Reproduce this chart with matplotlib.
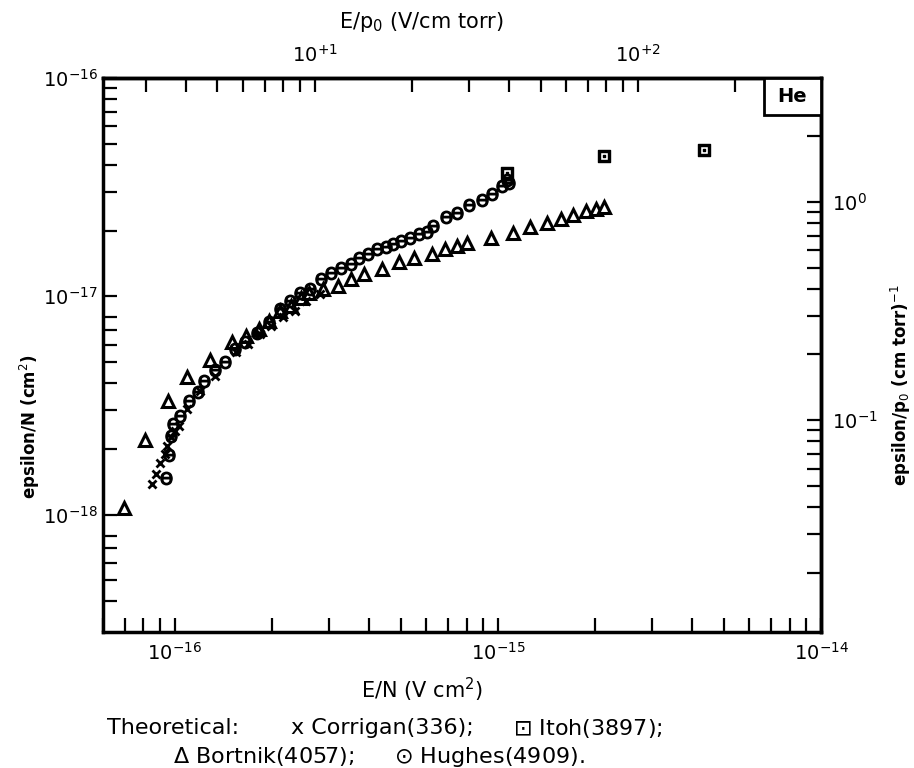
import matplotlib
matplotlib.use("Agg")
import numpy as np
import matplotlib.pyplot as plt
from matplotlib.ticker import FixedLocator, FuncFormatter, NullFormatter
from matplotlib.patches import Rectangle

# E/N (V cm^2) vs epsilon/N (cm^2)
corrigan_x = [8.52e-17, 8.73e-17, 9.00e-17, 9.31e-17, 9.48e-17, 9.74e-17, 1.00e-16,
              1.03e-16, 1.09e-16, 1.20e-16, 1.33e-16, 1.55e-16, 1.68e-16, 1.84e-16,
              1.99e-16, 2.16e-16, 2.35e-16, 2.55e-16, 2.81e-16]
corrigan_y = [1.38e-18, 1.54e-18, 1.73e-18, 1.90e-18, 2.07e-18, 2.27e-18, 2.42e-18,
              2.56e-18, 3.05e-18, 3.70e-18, 4.33e-18, 5.53e-18, 6.04e-18, 6.71e-18,
              7.32e-18, 8.08e-18, 8.57e-18, 9.52e-18, 1.03e-17]

itoh_x = [1.07e-15, 2.13e-15, 4.35e-15]
itoh_y = [3.67e-17, 4.41e-17, 4.69e-17]

bortnik_x = [6.96e-17, 8.09e-17, 9.50e-17, 1.09e-16, 1.29e-16, 1.50e-16, 1.66e-16,
             1.82e-16, 1.96e-16, 2.11e-16, 2.29e-16, 2.46e-16, 2.61e-16, 2.88e-16,
             3.20e-16, 3.52e-16, 3.85e-16, 4.37e-16, 4.96e-16, 5.51e-16, 6.25e-16,
             6.84e-16, 7.47e-16, 8.03e-16, 9.55e-16, 1.11e-15, 1.26e-15, 1.42e-15,
             1.57e-15, 1.71e-15, 1.87e-15, 2.01e-15, 2.13e-15]
bortnik_y = [1.07e-18, 2.20e-18, 3.32e-18, 4.25e-18, 5.12e-18, 6.17e-18, 6.59e-18,
             7.07e-18, 7.72e-18, 8.57e-18, 9.03e-18, 9.86e-18, 1.04e-17, 1.08e-17,
             1.11e-17, 1.20e-17, 1.26e-17, 1.34e-17, 1.43e-17, 1.50e-17, 1.56e-17,
             1.64e-17, 1.70e-17, 1.75e-17, 1.85e-17, 1.95e-17, 2.08e-17, 2.17e-17,
             2.27e-17, 2.35e-17, 2.45e-17, 2.52e-17, 2.57e-17]

hughes_x = [9.38e-17, 9.60e-17, 9.72e-17, 9.88e-17, 1.04e-16, 1.11e-16, 1.18e-16,
            1.23e-16, 1.33e-16, 1.43e-16, 1.54e-16, 1.65e-16, 1.80e-16, 1.96e-16,
            2.11e-16, 2.27e-16, 2.45e-16, 2.62e-16, 2.84e-16, 3.05e-16, 3.28e-16,
            3.50e-16, 3.72e-16, 3.95e-16, 4.22e-16, 4.50e-16, 4.75e-16, 5.01e-16,
            5.35e-16, 5.71e-16, 6.05e-16, 6.32e-16, 6.91e-16, 7.47e-16, 8.16e-16,
            8.94e-16, 9.60e-16, 1.03e-15, 1.08e-15, 1.07e-15]
hughes_y = [1.47e-18, 1.87e-18, 2.30e-18, 2.60e-18, 2.84e-18, 3.33e-18, 3.63e-18,
            4.10e-18, 4.61e-18, 5.01e-18, 5.73e-18, 6.17e-18, 6.78e-18, 7.60e-18,
            8.72e-18, 9.49e-18, 1.04e-17, 1.08e-17, 1.20e-17, 1.28e-17, 1.35e-17,
            1.41e-17, 1.50e-17, 1.56e-17, 1.64e-17, 1.68e-17, 1.73e-17, 1.79e-17,
            1.85e-17, 1.92e-17, 1.97e-17, 2.09e-17, 2.30e-17, 2.41e-17, 2.63e-17,
            2.75e-17, 2.95e-17, 3.19e-17, 3.31e-17, 3.42e-17]

# gas density per torr used for the E/p0 and epsilon/p0 scales
N0 = 3.69e16

fig = plt.figure(figsize=(9.14, 7.68), dpi=100)
ax = fig.add_axes([0.1127, 0.1771, 0.7856, 0.7213])
ax.set_xscale('log')
ax.set_yscale('log')
ax.set_xlim(6.0e-17, 1e-14)
ax.set_ylim(2.9e-19, 1e-16)

ax.plot(bortnik_x, bortnik_y, ls='none', marker='^', ms=8, mfc='white', mec='black', mew=2.2)
ax.plot(corrigan_x, corrigan_y, ls='none', marker='x', ms=6, mec='black', mew=2)
ax.plot(hughes_x, hughes_y, ls='none', marker='$\\Theta$', ms=9, color='black')
ax.plot(itoh_x, itoh_y, ls='none', marker='$\\boxdot$', ms=8, color='black')

for s in ax.spines.values():
    s.set_linewidth(2.5)

def pow_fmt(v, pos):
    return '$10^{%d}$' % int(round(np.log10(v)))

def plus_fmt(v, pos):
    return '$10^{+%d}$' % int(round(np.log10(v)))

ax.tick_params(which='both', direction='in', length=10, width=1.6, top=False, right=False,
               labelsize=14)
ax.tick_params(axis='x', which='both', pad=7)
ax.tick_params(axis='y', which='both', pad=4)
ax.xaxis.set_major_formatter(FuncFormatter(pow_fmt))
ax.yaxis.set_major_formatter(FuncFormatter(pow_fmt))
ax.xaxis.set_minor_formatter(NullFormatter())
ax.yaxis.set_minor_formatter(NullFormatter())
ax.yaxis.set_minor_locator(FixedLocator(
    [k * 1e-19 for k in range(4, 9)] + [k * 1e-18 for k in range(2, 9)]
    + [k * 1e-17 for k in range(2, 10)]))

top = ax.secondary_xaxis('top', functions=(lambda x: x * N0, lambda x: x / N0))
top.spines['top'].set_linewidth(2.5)
top.tick_params(which='both', direction='in', length=10, width=1.6, labelsize=14, pad=9)
top.xaxis.set_major_formatter(FuncFormatter(plus_fmt))
top.xaxis.set_minor_formatter(NullFormatter())
top.xaxis.set_minor_locator(FixedLocator(
    list(range(3, 10)) + list(range(20, 100, 10)) + [200]))

right = ax.secondary_yaxis('right', functions=(lambda y: y * N0, lambda y: y / N0))
right.spines['right'].set_linewidth(2.5)
right.tick_params(which='both', direction='in', length=10, width=1.6, labelsize=14, pad=8)
right.yaxis.set_major_formatter(FuncFormatter(pow_fmt))
right.yaxis.set_minor_formatter(NullFormatter())
right.yaxis.set_minor_locator(FixedLocator(
    [k * 0.01 for k in range(2, 10)] + [k * 0.1 for k in range(2, 10)] + [2]))

# gas label box in the top right corner
ax.add_patch(Rectangle((1 - 0.0794, 1 - 0.0668), 0.0794, 0.0668, transform=ax.transAxes,
                       facecolor='white', edgecolor='black', lw=2, zorder=5, clip_on=False))
ax.text(1 - 0.0397, 1 - 0.0334, 'He', transform=ax.transAxes, ha='center', va='center',
        fontsize=14, fontweight='bold', zorder=6)

fig.text(0.4617, 0.1016, 'E/N (V cm$^2$)', ha='center', va='center', fontsize=15)
fig.text(0.4606, 0.9714, 'E/p$_0$ (V/cm torr)', ha='center', va='center', fontsize=15)
fig.text(0.0328, 0.444, 'epsilon/N (cm$^2$)', rotation=90, ha='center', va='center',
         fontsize=12, fontweight='bold')
fig.text(0.9858, 0.4987, 'epsilon/p$_0$ (cm torr)$^{-1}$', rotation=90, ha='center',
         va='center', fontsize=12, fontweight='bold')

# caption, placed piece by piece like the typed original
cap = dict(ha='left', va='center', fontsize=16)
fig.text(107 / 914, 1 - 728 / 768, 'Theoretical:', **cap)
fig.text(291 / 914, 1 - 728 / 768, 'x Corrigan(336);', **cap)
fig.text(513 / 914, 1 - 728 / 768, '$\\boxdot$ Itoh(3897);', **cap)
fig.text(173 / 914, 1 - 757 / 768, '$\\Delta$ Bortnik(4057);', **cap)
fig.text(394 / 914, 1 - 757 / 768, '$\\odot$ Hughes(4909).', **cap)

fig.savefig('out.png', dpi=100)
